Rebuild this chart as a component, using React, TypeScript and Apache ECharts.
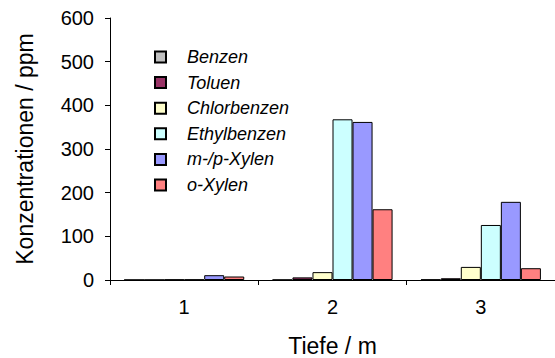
import React, { useEffect, useRef } from "react";
import * as echarts from "echarts";

const categories = ["1", "2", "3"];
const seriesNames = ["Benzen", "Toluen", "Chlorbenzen", "Ethylbenzen", "m-/p-Xylen", "o-Xylen"];
const benzen = [0.3, 0.5, 1];
const toluen = [0.3, 6, 4];
const chlorbenzen = [1, 18, 30];
const ethylbenzen = [1, 368, 126];
const mpXylen = [11, 362, 179];
const oXylen = [8, 162, 27];
const seriesColors = ["#C0C0C0", "#993366", "#FFFFCC", "#CCFFFF", "#9999FF", "#FF8080"];
const yTicks = [0, 100, 200, 300, 400, 500, 600];

export default function App() {
  const ref = useRef<HTMLDivElement>(null);
  useEffect(() => {
    if (!ref.current) return;
    const chart = echarts.init(ref.current, null, { renderer: "svg" });
    const values = [benzen, toluen, chlorbenzen, ethylbenzen, mpXylen, oXylen];
    const font = "'Liberation Sans', Arial, sans-serif";
    chart.setOption({
      animation: false,
      textStyle: { fontFamily: font },
      grid: { left: 110, top: 18, right: 0, bottom: 78, containLabel: false, outerBoundsMode: "none" },
      legend: {
        orient: "vertical",
        left: 149,
        top: 43,
        itemWidth: 11,
        itemHeight: 11,
        itemGap: 7.6,
        icon: "rect",
        textStyle: { fontFamily: font, fontSize: 18, lineHeight: 18, fontStyle: "italic", color: "#000", padding: [0, 0, 0, 16] },
        data: seriesNames,
      },
      xAxis: {
        type: "category",
        data: categories,
        name: "Tiefe / m",
        nameLocation: "middle",
        nameGap: 54,
        nameTextStyle: { fontSize: 23, color: "#000", fontFamily: font },
        axisLine: { lineStyle: { color: "#000", width: 1 } },
        axisTick: { show: true, alignWithLabel: false, length: 5, lineStyle: { color: "#000" } },
        axisLabel: { fontSize: 20, color: "#000", margin: 17 },
      },
      yAxis: {
        type: "value",
        min: 0,
        max: 600,
        interval: 100,
        name: "Konzentrationen / ppm",
        nameLocation: "middle",
        nameGap: 74,
        nameTextStyle: { fontSize: 23, color: "#000", fontFamily: font },
        axisLine: { show: true, lineStyle: { color: "#000", width: 1 } },
        axisTick: { show: true, length: 5, lineStyle: { color: "#000" } },
        axisLabel: { fontSize: 20, color: "#000", margin: 16, formatter: (v: number) => (yTicks.includes(v) ? String(v) : "") },
        splitLine: { show: false },
      },
      series: seriesNames.map((name, i) => ({
        name,
        type: "bar",
        data: values[i],
        barGap: "0%",
        barCategoryGap: "19%",
        itemStyle: { color: seriesColors[i], borderColor: "#000", borderWidth: 1 },
      })),
    });
    return () => chart.dispose();
  }, []);
  return <div ref={ref} style={{ width: 555, height: 358, position: "absolute", left: 0, top: 0 }} />;
}
